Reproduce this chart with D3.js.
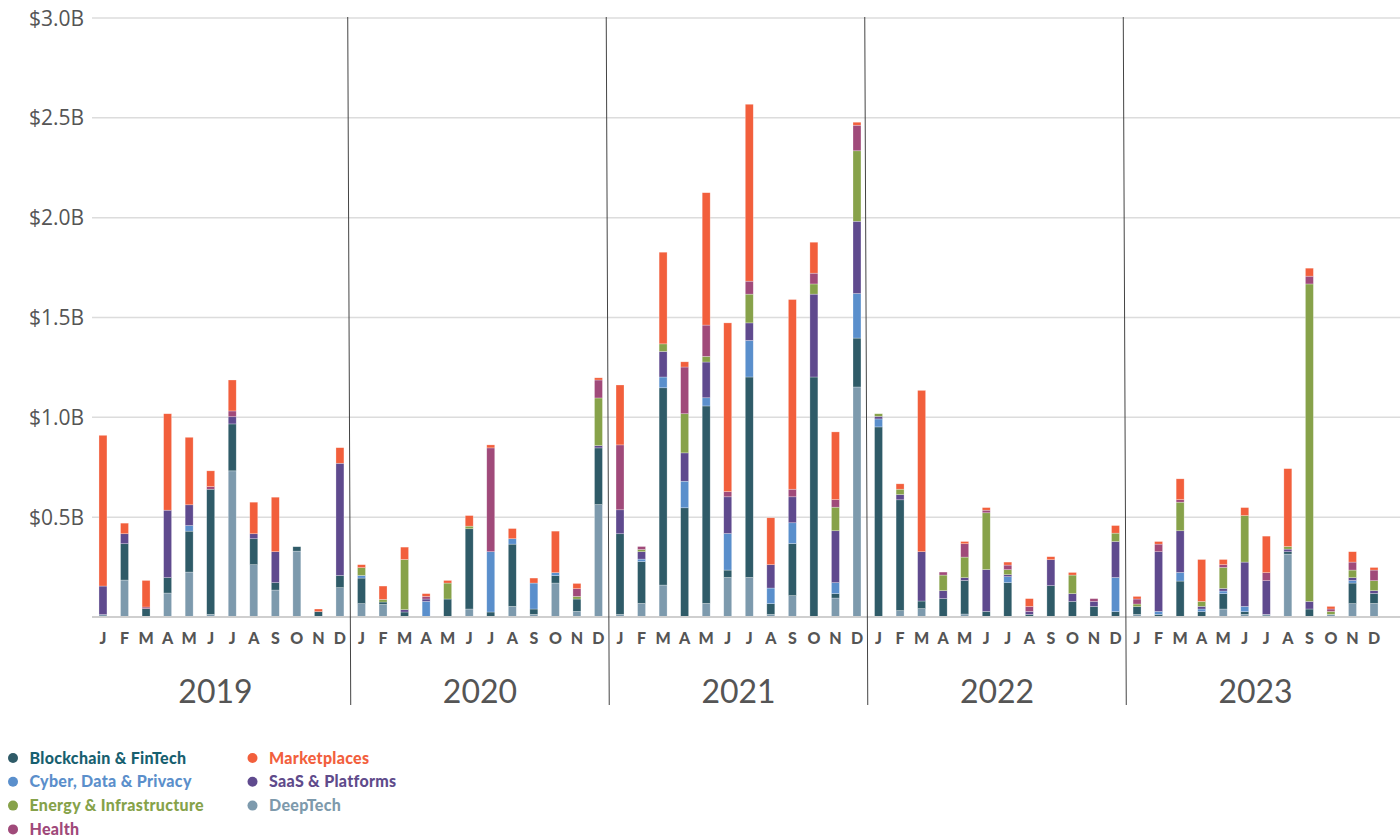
<!DOCTYPE html>
<html>
<head>
<meta charset="utf-8">
<script src="https://cdn.jsdelivr.net/npm/d3@7"></script>
<style>
  html, body { margin: 0; padding: 0; background: #fff; }
  svg { display: block; font-family: Lato, "Open Sans", sans-serif; }
</style>
</head>
<body>
<svg id="chart" width="1400" height="839"></svg>
<script>
// Monthly investment by sector, $ millions, Jan 2019 – Dec 2023
const years = ["2019", "2020", "2021", "2022", "2023"];
const monthLetters = ["J","F","M","A","M","J","J","A","S","O","N","D"];

const deepTech = [
  12,185,0,120,225,13,732,262,135,330,0,147,
  67,63,0,0,0,40,0,53,13,170,28,563,
  13,68,160,0,68,198,198,13,107,0,95,1152,
  0,32,42,0,15,0,0,0,0,0,0,0,
  13,0,0,0,40,13,13,315,0,13,67,68
];
const blockchain = [
  0,182,42,77,205,627,235,130,37,22,27,61,
  128,12,25,0,90,402,25,312,27,37,62,284,
  404,209,988,547,989,37,1004,54,261,1202,22,245,
  952,555,38,92,168,28,172,13,157,78,53,27,
  39,13,180,27,77,14,0,12,40,0,103,50
];
const cyber = [
  0,0,0,0,28,0,0,0,0,0,0,0,
  13,0,0,78,0,0,302,27,130,15,0,0,
  0,13,54,133,41,183,183,78,104,0,55,223,
  40,0,0,0,0,0,30,0,0,0,0,171,
  0,15,43,13,13,26,0,0,0,0,13,0
];
const saas = [
  143,50,0,338,104,0,36,25,155,0,0,562,
  0,0,12,12,0,0,0,0,0,0,0,11,
  120,37,128,142,179,184,88,117,130,415,260,362,
  13,26,247,40,14,210,10,15,130,39,25,180,
  0,299,209,13,13,222,169,13,38,0,14,14
];
const energy = [
  0,0,0,0,0,0,0,0,0,0,0,0,
  39,13,251,0,80,13,0,0,0,0,13,239,
  0,11,38,196,28,0,144,0,0,51,118,353,
  13,27,0,78,103,284,25,0,0,93,0,42,
  13,0,143,25,105,233,0,13,1590,15,38,50
];
const health = [
  0,0,8,0,0,13,29,0,0,0,0,0,
  0,0,0,13,0,0,520,0,0,0,39,90,
  325,15,0,234,157,26,65,0,38,54,38,128,
  0,0,0,15,67,13,23,25,0,0,14,0,
  25,38,13,0,14,0,40,0,39,12,40,53
];
const marketplaces = [
  755,53,133,483,338,79,155,158,273,0,13,78,
  15,67,62,14,13,53,15,51,25,208,26,11,
  300,0,459,26,663,845,886,235,950,155,339,15,
  0,27,808,0,11,13,15,39,15,13,0,38,
  13,13,104,210,26,40,183,390,40,13,52,13
];

const yTickValues = [0, 500, 1000, 1500, 2000, 2500, 3000];
const yTickLabels = ["", "$0.5B", "$1.0B", "$1.5B", "$2.0B", "$2.5B", "$3.0B"];

// Stack order, bottom to top
const sectors = [
  { key: "deepTech",     name: "DeepTech",                values: deepTech,     color: "#7d9aad", text: "#7e9aac" },
  { key: "blockchain",   name: "Blockchain & FinTech",    values: blockchain,   color: "#2f5b68", text: "#17606f" },
  { key: "cyber",        name: "Cyber, Data & Privacy",   values: cyber,        color: "#5a8fcc", text: "#5b8fcb" },
  { key: "saas",         name: "SaaS & Platforms",        values: saas,         color: "#5f4a8e", text: "#5f4b8b" },
  { key: "energy",       name: "Energy & Infrastructure", values: energy,       color: "#87a24a", text: "#86a24a" },
  { key: "health",       name: "Health",                  values: health,       color: "#a04a7a", text: "#a0497a" },
  { key: "marketplaces", name: "Marketplaces",            values: marketplaces, color: "#f25f3c", text: "#f2603d" }
];

// Legend layout order (two columns)
const legendOrder = [
  ["blockchain", "cyber", "energy", "health"],
  ["marketplaces", "saas", "deepTech"]
];

const months = [];
years.forEach(y => monthLetters.forEach((m, i) => months.push({ id: y + "-" + i, year: y, letter: m })));

const rows = months.map((m, i) => {
  const r = { id: m.id };
  sectors.forEach(s => { r[s.key] = s.values[i]; });
  return r;
});

const svg = d3.select("#chart");
const plotLeft = 92.2, plotRight = 1384.8, plotTop = 18, plotBottom = 617;

const x = d3.scaleBand()
  .domain(months.map(m => m.id))
  .range([plotLeft, plotRight])
  .paddingInner(0.63)
  .paddingOuter(0.315);

const y = d3.scaleLinear().domain([0, 3000]).range([plotBottom, plotTop]);

// Gridlines
svg.append("g")
  .selectAll("line")
  .data(yTickValues.filter(v => v > 0))
  .join("line")
  .attr("x1", 92).attr("x2", 1400)
  .attr("y1", d => y(d)).attr("y2", d => y(d))
  .attr("stroke", "#dcdcdc").attr("stroke-width", 1.5);

// Y tick labels
svg.append("g")
  .selectAll("text")
  .data(yTickValues)
  .join("text")
  .attr("x", 84)
  .attr("y", d => y(d))
  .attr("dy", "0.36em")
  .attr("text-anchor", "end")
  .attr("font-family", "'Open Sans', 'Noto Sans', sans-serif")
  .attr("font-size", 21)
  .attr("fill", "#555")
  .text((d, i) => yTickLabels[i]);

// Stacked bars
const stack = d3.stack().keys(sectors.map(s => s.key));
const series = stack(rows);
const colorOf = Object.fromEntries(sectors.map(s => [s.key, s.color]));

svg.append("g")
  .selectAll("g")
  .data(series)
  .join("g")
  .attr("fill", d => colorOf[d.key])
  .selectAll("rect")
  .data(d => d.filter(p => p[1] - p[0] > 0))
  .join("rect")
  .attr("x", d => x(d.data.id))
  .attr("width", x.bandwidth())
  .attr("y", d => y(d[1]))
  .attr("height", d => y(d[0]) - y(d[1]))
  .attr("stroke", "#fff")
  .attr("stroke-opacity", 0.45)
  .attr("stroke-width", 0.6);

// Baseline
svg.append("line")
  .attr("x1", 92).attr("x2", 1400)
  .attr("y1", plotBottom).attr("y2", plotBottom)
  .attr("stroke", "#cfcfcf").attr("stroke-width", 2);

// Month letters
svg.append("g")
  .selectAll("text")
  .data(months)
  .join("text")
  .attr("x", d => x(d.id) + x.bandwidth() / 2)
  .attr("y", 644)
  .attr("text-anchor", "middle")
  .attr("font-size", 16)
  .attr("font-weight", 900)
  .attr("fill", "#555")
  .text(d => d.letter);

// Year labels and dividers
const step = x.step();
const yearStart = yi => x(months[yi * 12].id) - x.paddingInner() * step / 2;

svg.append("g")
  .selectAll("text")
  .data(years)
  .join("text")
  .attr("x", (d, i) => yearStart(i) + 6 * step - (i === 0 ? 6 : 0))
  .attr("y", 703)
  .attr("text-anchor", "middle")
  .attr("font-size", 32)
  .attr("fill", "#555")
  .text(d => d);

svg.append("g")
  .selectAll("line")
  .data(years.slice(1))
  .join("line")
  .attr("x1", (d, i) => yearStart(i + 1) - 3)
  .attr("x2", (d, i) => yearStart(i + 1))
  .attr("y1", 17).attr("y2", 705)
  .attr("stroke", "#444").attr("stroke-width", 1);

// Legend
const byKey = Object.fromEntries(sectors.map(s => [s.key, s]));
const legendCols = [13, 252.5];
legendOrder.forEach((col, ci) => {
  const g = svg.append("g");
  const items = g.selectAll("g")
    .data(col.map(k => byKey[k]))
    .join("g")
    .attr("transform", (d, i) => `translate(${legendCols[ci]},${758 + i * 23.8})`);
  items.append("circle")
    .attr("r", 5)
    .attr("fill", d => d.color);
  items.append("text")
    .attr("x", 16.5)
    .attr("dy", "0.35em")
    .attr("font-size", 16)
    .attr("font-weight", 900)
    .attr("letter-spacing", 0.3)
    .attr("fill", d => d.text)
    .text(d => d.name);
});
</script>
</body>
</html>
